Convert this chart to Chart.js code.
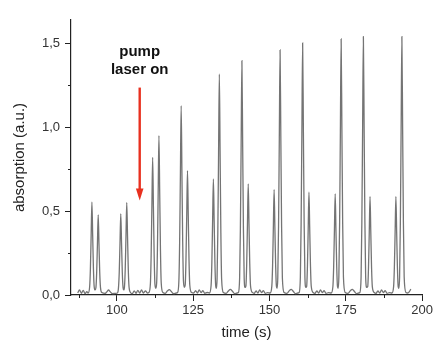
<!DOCTYPE html>
<html>
<head>
<meta charset="utf-8">
<script src="https://cdn.jsdelivr.net/npm/chart.js@4/dist/chart.umd.min.js"></script>
<style>
  html, body { margin: 0; padding: 0; background: #fff; }
  canvas { display: block; }
</style>
</head>
<body>
<canvas id="absChart" width="435" height="343"></canvas>
<script>
// measured trace, time in s
const time = [
  87.2, 87.8, 88.4, 89.0, 89.6, 90.2, 90.6,
  91.1, 91.35, 91.6, 91.85, 92.1, 92.35, 92.6, 92.88, 93.16, 93.41, 93.66, 93.91, 94.16, 94.41, 94.66, 95.1,
  96.2, 96.8, 97.3, 97.8, 98.6, 99.6, 100.2,
  100.55, 100.8, 101.05, 101.3, 101.55, 101.8, 102.05, 102.28, 102.51, 102.76, 103.01, 103.26, 103.51, 103.76, 104.01, 104.5,
  105.1, 105.7, 106.3, 106.9, 107.5, 108.1, 108.7, 109.4, 110.0, 110.5,
  110.99, 111.24, 111.49, 111.74, 111.99, 112.24, 112.49, 112.77, 113.05, 113.3, 113.55, 113.8, 114.05, 114.3, 114.55, 115.1,
  115.9, 116.6, 117.2, 117.8, 118.6, 119.5, 119.9,
  120.33, 120.58, 120.83, 121.08, 121.33, 121.58, 121.83, 122.12, 122.4, 122.65, 122.9, 123.15, 123.4, 123.65, 123.9, 124.5,
  125.2, 125.8, 126.4, 127.0, 127.6, 128.2, 128.8, 129.6, 130.3,
  130.88, 131.13, 131.38, 131.63, 131.88, 132.13, 132.38, 132.6, 132.83, 133.08, 133.33, 133.58, 133.83, 134.08, 134.33, 134.9,
  135.8, 136.6, 137.2, 137.8, 138.6, 139.4, 139.8,
  140.22, 140.47, 140.72, 140.97, 141.22, 141.47, 141.72, 142.0, 142.29, 142.54, 142.79, 143.04, 143.29, 143.54, 143.79, 144.4,
  145.0, 145.6, 146.2, 146.8, 147.4, 148.0, 148.6, 149.4, 150.2,
  150.77, 151.02, 151.27, 151.52, 151.77, 152.02, 152.27, 152.5, 152.72, 152.97, 153.22, 153.47, 153.72, 153.97, 154.22, 154.8,
  155.7, 156.5, 157.1, 157.7, 158.5, 159.3, 159.7,
  160.11, 160.36, 160.61, 160.86, 161.11, 161.36, 161.61, 161.9, 162.18, 162.43, 162.68, 162.93, 163.18, 163.43, 163.68, 164.3,
  164.9, 165.5, 166.1, 166.7, 167.3, 167.9, 168.5, 169.4, 170.2,
  170.77, 171.02, 171.27, 171.52, 171.77, 172.02, 172.27, 172.5, 172.72, 172.97, 173.22, 173.47, 173.72, 173.97, 174.22, 174.8,
  175.7, 176.5, 177.1, 177.7, 178.5, 179.2, 179.6,
  180.0, 180.25, 180.5, 180.75, 181.0, 181.25, 181.5, 181.84, 182.18, 182.43, 182.68, 182.93, 183.18, 183.43, 183.68, 184.3,
  184.9, 185.5, 186.1, 186.7, 187.3, 187.9, 188.5, 189.3, 190.1,
  190.65, 190.9, 191.15, 191.4, 191.65, 191.9, 192.15, 192.38, 192.61, 192.86, 193.11, 193.36, 193.61, 193.86, 194.11, 194.7,
  195.3, 195.8, 196.3
];
const absorption = [
  0.012, 0.030, 0.010, 0.028, 0.008, 0.020, 0.012,
  0.048, 0.155, 0.354, 0.553, 0.354, 0.155, 0.048, 0.030, 0.044, 0.134, 0.306, 0.478, 0.306, 0.134, 0.044, 0.015,
  0.010, 0.020, 0.030, 0.020, 0.008, 0.010, 0.012,
  0.044, 0.136, 0.310, 0.484, 0.310, 0.136, 0.044, 0.030, 0.048, 0.154, 0.353, 0.551, 0.353, 0.154, 0.048, 0.015,
  0.008, 0.025, 0.010, 0.028, 0.012, 0.030, 0.012, 0.025, 0.012, 0.015,
  0.064, 0.230, 0.525, 0.821, 0.525, 0.230, 0.064, 0.040, 0.072, 0.266, 0.609, 0.951, 0.609, 0.266, 0.072, 0.015,
  0.010, 0.025, 0.032, 0.022, 0.008, 0.012, 0.015,
  0.083, 0.316, 0.723, 1.129, 0.723, 0.316, 0.083, 0.045, 0.060, 0.208, 0.475, 0.742, 0.475, 0.208, 0.060, 0.015,
  0.012, 0.026, 0.012, 0.030, 0.014, 0.026, 0.010, 0.015, 0.012,
  0.057, 0.194, 0.443, 0.692, 0.443, 0.194, 0.057, 0.040, 0.094, 0.369, 0.844, 1.318, 0.844, 0.369, 0.094, 0.015,
  0.010, 0.026, 0.033, 0.024, 0.008, 0.012, 0.015,
  0.099, 0.391, 0.894, 1.397, 0.894, 0.391, 0.099, 0.045, 0.055, 0.186, 0.424, 0.663, 0.424, 0.186, 0.055, 0.015,
  0.010, 0.024, 0.012, 0.030, 0.014, 0.026, 0.010, 0.014, 0.012,
  0.053, 0.176, 0.403, 0.629, 0.403, 0.176, 0.053, 0.040, 0.103, 0.409, 0.935, 1.461, 0.935, 0.409, 0.103, 0.015,
  0.010, 0.026, 0.034, 0.024, 0.008, 0.012, 0.015,
  0.105, 0.421, 0.962, 1.503, 0.962, 0.421, 0.105, 0.045, 0.052, 0.172, 0.392, 0.613, 0.392, 0.172, 0.052, 0.015,
  0.010, 0.024, 0.012, 0.030, 0.014, 0.026, 0.010, 0.014, 0.012,
  0.051, 0.169, 0.386, 0.603, 0.386, 0.169, 0.051, 0.040, 0.107, 0.428, 0.977, 1.527, 0.977, 0.428, 0.107, 0.015,
  0.010, 0.026, 0.034, 0.024, 0.008, 0.012, 0.015,
  0.107, 0.431, 0.986, 1.541, 0.986, 0.431, 0.107, 0.045, 0.050, 0.164, 0.376, 0.587, 0.376, 0.164, 0.050, 0.015,
  0.010, 0.024, 0.012, 0.030, 0.014, 0.026, 0.010, 0.014, 0.012,
  0.050, 0.164, 0.376, 0.587, 0.376, 0.164, 0.050, 0.040, 0.107, 0.431, 0.986, 1.541, 0.986, 0.431, 0.107, 0.015,
  0.012, 0.020, 0.035
];

const xTicks = [100, 125, 150, 175, 200];
const xMinor = [87.5, 112.5, 137.5, 162.5, 187.5];
const yTicks = [0, 0.5, 1.0, 1.5];
const yMinor = [0.25, 0.75, 1.25];

// "pump laser on" marker: time and absorption span of the arrow
const pumpOn = { t: 107.5, from: 1.237, to: 0.563 };
const pumpLabel = ['pump', 'laser on'];

const FONT = "'Liberation Sans', Arial, sans-serif";

const extras = {
  id: 'extras',
  afterDraw(chart) {
    const c = chart.ctx;
    const x = chart.scales.x, y = chart.scales.y;
    const area = chart.chartArea;
    c.save();
    // minor ticks
    c.strokeStyle = '#222';
    c.lineWidth = 1;
    c.beginPath();
    xMinor.forEach(v => {
      const px = Math.round(x.getPixelForValue(v)) + 0.5;
      c.moveTo(px, area.bottom);
      c.lineTo(px, area.bottom + 3);
    });
    yMinor.forEach(v => {
      const py = Math.round(y.getPixelForValue(v)) + 0.5;
      c.moveTo(area.left - 3, py);
      c.lineTo(area.left, py);
    });
    c.stroke();

    // red arrow
    const ax = x.getPixelForValue(pumpOn.t);
    const y0 = y.getPixelForValue(pumpOn.from);
    const y1 = y.getPixelForValue(pumpOn.to);
    c.strokeStyle = '#e8301f';
    c.fillStyle = '#e8301f';
    c.lineWidth = 2.4;
    c.beginPath();
    c.moveTo(ax, y0);
    c.lineTo(ax, y1 - 10);
    c.stroke();
    c.beginPath();
    c.moveTo(ax - 3.8, y1 - 12);
    c.lineTo(ax + 3.8, y1 - 12);
    c.lineTo(ax, y1);
    c.closePath();
    c.fill();

    // label
    c.fillStyle = '#111';
    c.font = 'bold 15px ' + FONT;
    c.textAlign = 'center';
    c.textBaseline = 'alphabetic';
    c.fillText(pumpLabel[0], ax, y0 - 32);
    c.fillText(pumpLabel[1], ax, y0 - 14);
    c.restore();
  }
};

new Chart(document.getElementById('absChart'), {
  type: 'line',
  data: {
    datasets: [{
      data: time.map((t, i) => ({ x: t, y: absorption[i] })),
      borderColor: '#747474',
      borderWidth: 1.3,
      pointRadius: 0,
      cubicInterpolationMode: 'monotone',
      fill: false
    }]
  },
  options: {
    responsive: false,
    animation: false,
    devicePixelRatio: 1,
    layout: { padding: { top: 20, right: 12, bottom: 0, left: 0 } },
    plugins: { legend: { display: false }, tooltip: { enabled: false } },
    scales: {
      x: {
        type: 'linear',
        min: 85,
        max: 200,
        afterBuildTicks: s => { s.ticks = xTicks.map(v => ({ value: v })); },
        afterFit: s => { s.height = 48; },
        ticks: { color: '#333', font: { family: FONT, size: 13 }, padding: 2, maxRotation: 0 },
        grid: { drawOnChartArea: false, drawTicks: true, tickLength: 6, color: '#222', tickWidth: 1 },
        border: { display: true, color: '#222', width: 1.2 },
        title: { display: true, text: 'time (s)', color: '#222', font: { family: FONT, size: 15 }, padding: { top: 0, bottom: 1 } }
      },
      y: {
        min: 0,
        max: 1.64,
        afterBuildTicks: s => { s.ticks = yTicks.map(v => ({ value: v })); },
        afterFit: s => { s.width = 71; },
        ticks: {
          color: '#333',
          font: { family: FONT, size: 13 },
          padding: 5,
          callback: v => v.toFixed(1).replace('.', ',')
        },
        grid: { drawOnChartArea: false, drawTicks: true, tickLength: 6, color: '#222', tickWidth: 1 },
        border: { display: true, color: '#222', width: 1.2 },
        title: { display: true, text: 'absorption (a.u.)', color: '#222', font: { family: FONT, size: 15 }, padding: { top: 11, bottom: 0 } }
      }
    }
  },
  plugins: [extras]
});
</script>
</body>
</html>
